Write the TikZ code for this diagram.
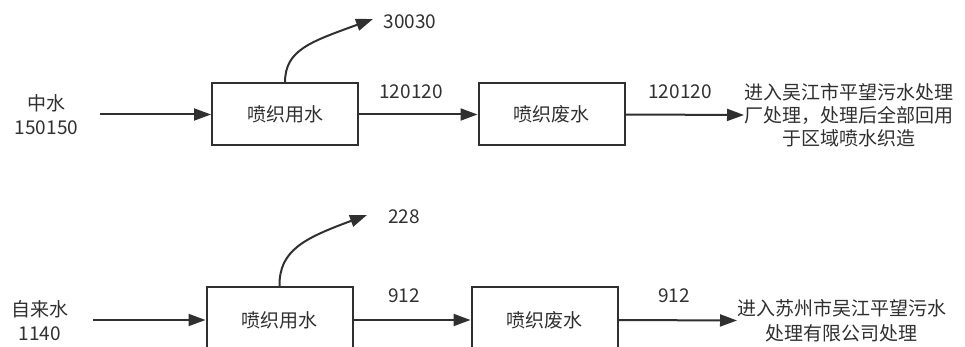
\documentclass[tikz,border=0pt]{standalone}
\usepackage{fontspec}
\setmainfont{Noto Sans CJK SC}
\usetikzlibrary{arrows.meta}
\definecolor{ink}{HTML}{303030}
\tikzset{
  procbox/.style={draw=ink, line width=2pt, minimum width=146pt, inner sep=0pt, text=ink, font=\fontsize{19}{23}\selectfont},
  lbl/.style={inner sep=0pt, text=ink, align=center, font=\fontsize{19}{24}\selectfont},
  flow/.style={draw=ink, line width=2pt, -{Triangle[length=17pt,width=12pt]}}
}
\begin{document}
\begin{tikzpicture}[x=1pt,y=-1pt]
\useasboundingbox[fill=white] (0,0) rectangle (965,347);
% top row
\node[lbl] (in1) at (46.5,114.5) {中水\\150150};
\node[procbox, minimum height=62pt] (b1) at (285,114.5) {喷织用水};
\node[procbox, minimum height=62pt] (b2) at (551.5,114.5) {喷织废水};
\node[lbl, anchor=west, font=\fontsize{19}{23}\selectfont] (out1) at (744,115) {进入吴江市平望污水处理\\厂处理，处理后全部回用\\于区域喷水织造};
\coordinate (s1) at (100,114.5);
\coordinate (e1) at (373,19);
\node[lbl] (n30030) at (410,22) {30030};
\node[lbl] (n120a) at (411,92) {120120};
\node[lbl] (n120b) at (680,92) {120120};
\draw[flow] (s1) -- (b1.west);
\draw[flow] (b1.east) -- (b2.west);
\draw[flow] (b2.east) -- (out1.west);
\draw[flow] (b1.north) .. controls (285,50) and (310,42) .. (e1);
% bottom row
\node[lbl] (in2) at (40,320.5) {自来水\\1140};
\node[procbox, minimum height=66pt] (c1) at (279.5,320) {喷织用水};
\node[procbox, minimum height=66pt] (c2) at (544.5,320) {喷织废水};
\node[lbl, anchor=west, font=\fontsize{19}{25}\selectfont] (out2) at (737,320.5) {进入苏州市吴江平望污水\\处理有限公司处理};
\coordinate (s2) at (93,320);
\coordinate (e2) at (367,215);
\node[lbl] (n228) at (404,217) {228};
\node[lbl] (n912a) at (404,296) {912};
\node[lbl] (n912b) at (674,296) {912};
\draw[flow] (s2) -- (c1.west);
\draw[flow] (c1.east) -- (c2.west);
\draw[flow] (c2.east) -- (out2.west);
\draw[flow] (c1.north) .. controls (279,250) and (305,238) .. (e2);
\end{tikzpicture}
\end{document}
